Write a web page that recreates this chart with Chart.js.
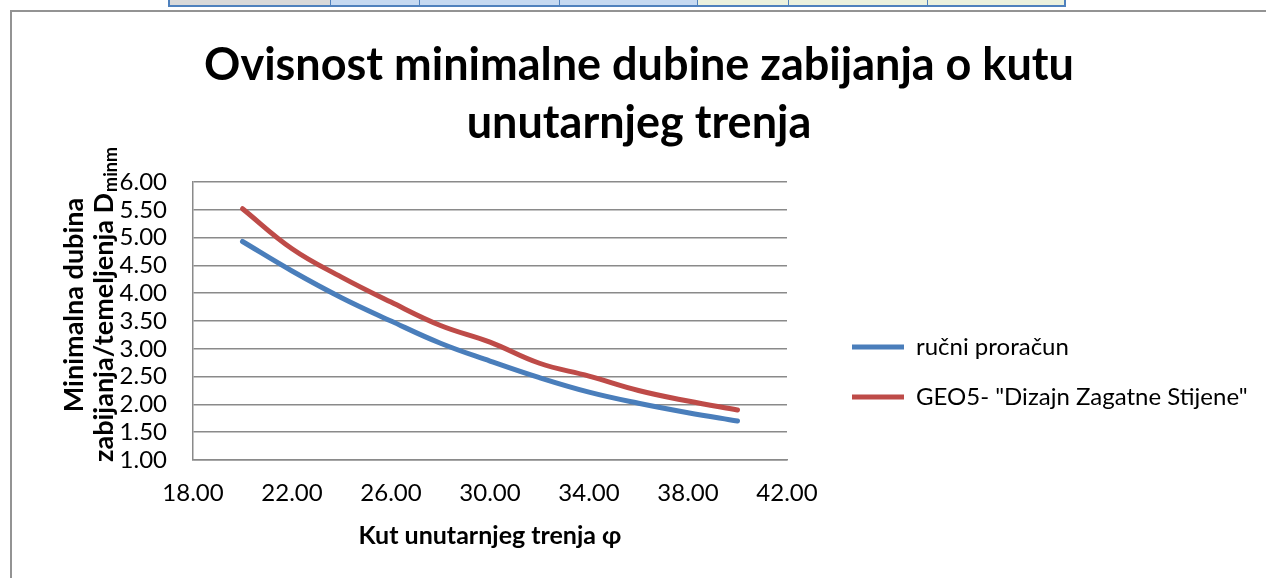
<!DOCTYPE html>
<html>
<head>
<meta charset="utf-8">
<title>Ovisnost minimalne dubine zabijanja o kutu unutarnjeg trenja</title>
<script src="https://cdn.jsdelivr.net/npm/chart.js@4.4.1/dist/chart.umd.min.js"></script>
<style>
  html, body { margin: 0; padding: 0; background: #fff; }
  body { width: 1266px; height: 578px; position: relative; overflow: hidden; font-family: Lato, sans-serif; }
  #cells { position: absolute; left: 168px; top: 0; height: 5px; display: flex;
           border: 2px solid #4f81bd; border-top: none; }
  #cells div { height: 5px; border-right: 1px solid #4f81bd; }
  #cells div:last-child { border-right: none; }
  #frame { position: absolute; left: 10px; top: 10px; width: 1260px; height: 580px;
           border-left: 2px solid #939393; border-top: 2px solid #939393; }
  #wrap { position: absolute; left: 12px; top: 12px; width: 1254px; height: 566px; }
</style>
</head>
<body>
<div id="cells">
  <div style="width:160px;background:#d9d9d9"></div>
  <div style="width:88px;background:#c5d9f1"></div>
  <div style="width:139px;background:#c5d9f1"></div>
  <div style="width:137px;background:#c5d9f1"></div>
  <div style="width:90px;background:#ebf1de"></div>
  <div style="width:138px;background:#ebf1de"></div>
  <div style="width:136px;background:#ebf1de"></div>
</div>
<div id="frame"></div>
<div id="wrap"><canvas id="myChart"></canvas></div>
<script>
// kut unutarnjeg trenja (stupnjevi)
const angles = [20, 22, 24, 26, 28, 30, 32, 34, 36, 38, 40];
// minimalna dubina zabijanja [m]
const rucniProracun = [4.93, 4.40, 3.92, 3.50, 3.10, 2.78, 2.48, 2.22, 2.02, 1.85, 1.70];
const geo5 = [5.52, 4.80, 4.29, 3.84, 3.42, 3.12, 2.74, 2.51, 2.25, 2.06, 1.90];
const seriesNames = ['ručni proračun', 'GEO5- "Dizajn Zagatne Stijene"'];
const chartTitle = ['Ovisnost minimalne dubine zabijanja o kutu', 'unutarnjeg trenja'];

const gridColor = '#8a8a8a';
const font = 'Lato';

function toPoints(ys) {
  return angles.map((a, i) => ({ x: a, y: ys[i] }));
}

// legend sits to the right with a fixed width, items start lower down
const legendPlacement = {
  id: 'legendPlacement',
  beforeLayout(chart) {
    const lg = chart.legend;
    if (!lg || lg._patched) return;
    const fit = lg.fit;
    lg.fit = function () {
      fit.call(this);
      this.width = 479;
    };
    lg._patched = true;
  },
  afterLayout(chart) {
    const lg = chart.legend;
    const w = lg.width, h = lg.height;
    lg.left = 814; lg.right = lg.left + w;
    lg.top = 297; lg.bottom = lg.top + h;
  }
};

// two-line vertical axis title with subscript on D
const yTitle = {
  id: 'yTitle',
  afterDraw(chart) {
    const ctx = chart.ctx;
    const cy = 293;
    ctx.save();
    ctx.fillStyle = '#000';
    ctx.textBaseline = 'alphabetic';
    ctx.textAlign = 'left';

    ctx.translate(61, cy);
    ctx.rotate(-Math.PI / 2);
    ctx.font = 'bold 27px ' + font;
    const l1 = 'Minimalna dubina';
    ctx.fillText(l1, -ctx.measureText(l1).width / 2, 10);
    ctx.restore();

    ctx.save();
    ctx.fillStyle = '#000';
    ctx.textBaseline = 'alphabetic';
    ctx.textAlign = 'left';
    ctx.translate(95, cy);
    ctx.rotate(-Math.PI / 2);
    const main = 'zabijanja/temeljenja D', sub = 'minm';
    ctx.font = 'bold 27px ' + font;
    const w1 = ctx.measureText(main).width;
    ctx.font = 'bold 18px ' + font;
    const w2 = ctx.measureText(sub).width;
    const x0 = -(w1 + w2) / 2;
    ctx.font = 'bold 27px ' + font;
    ctx.fillText(main, x0, 6);
    ctx.font = 'bold 18px ' + font;
    ctx.fillText(sub, x0 + w1 + 1, 10);
    ctx.restore();
  }
};

function createChart() {
  const ctx = document.getElementById('myChart');
  new Chart(ctx, {
    type: 'line',
    data: {
      datasets: [{
        label: seriesNames[0],
        data: toPoints(rucniProracun),
        borderColor: '#4a7ebb',
        backgroundColor: '#4a7ebb',
        borderWidth: 5,
        borderCapStyle: 'round',
        borderJoinStyle: 'round',
        pointRadius: 0,
        tension: 0.4
      }, {
        label: seriesNames[1],
        data: toPoints(geo5),
        borderColor: '#be4b48',
        backgroundColor: '#be4b48',
        borderWidth: 5,
        borderCapStyle: 'round',
        borderJoinStyle: 'round',
        pointRadius: 0,
        tension: 0.4
      }]
    },
    options: {
      responsive: true,
      maintainAspectRatio: false,
      animation: false,
      layout: { padding: 0 },
      plugins: {
        title: {
          display: true,
          text: chartTitle,
          color: '#000',
          font: { family: font, size: 45, weight: 'bold', lineHeight: 1.289 },
          padding: { top: 24, bottom: 30 }
        },
        legend: {
          position: 'right',
          align: 'start',
          labels: {
            usePointStyle: true,
            pointStyle: 'line',
            pointStyleWidth: 52,
            padding: 26,
            color: '#000',
            font: { family: font, size: 24 }
          }
        },
        tooltip: { enabled: false }
      },
      scales: {
        x: {
          type: 'linear',
          min: 18,
          max: 42,
          ticks: {
            stepSize: 4,
            autoSkip: false,
            padding: 19,
            color: '#000',
            font: { family: font, size: 24 },
            callback: v => v.toFixed(2)
          },
          grid: { display: false, drawTicks: false },
          border: { display: true, color: gridColor, width: 1.5 },
          title: {
            display: true,
            text: 'Kut unutarnjeg trenja φ',
            color: '#000',
            font: { family: font, size: 25, weight: 'bold' },
            padding: 27
          },
          afterFit: s => { s.height = 118; }
        },
        y: {
          min: 1,
          max: 6,
          ticks: {
            stepSize: 0.5,
            autoSkip: false,
            padding: 26,
            color: '#000',
            font: { family: font, size: 24 },
            callback: v => v.toFixed(2)
          },
          grid: { color: gridColor, lineWidth: 1.5, drawTicks: false },
          border: { display: true, color: gridColor, width: 1.5 },
          afterFit: s => { s.width = 181; }
        }
      }
    },
    plugins: [legendPlacement, yTitle]
  });
}

createChart();
</script>
</body>
</html>
